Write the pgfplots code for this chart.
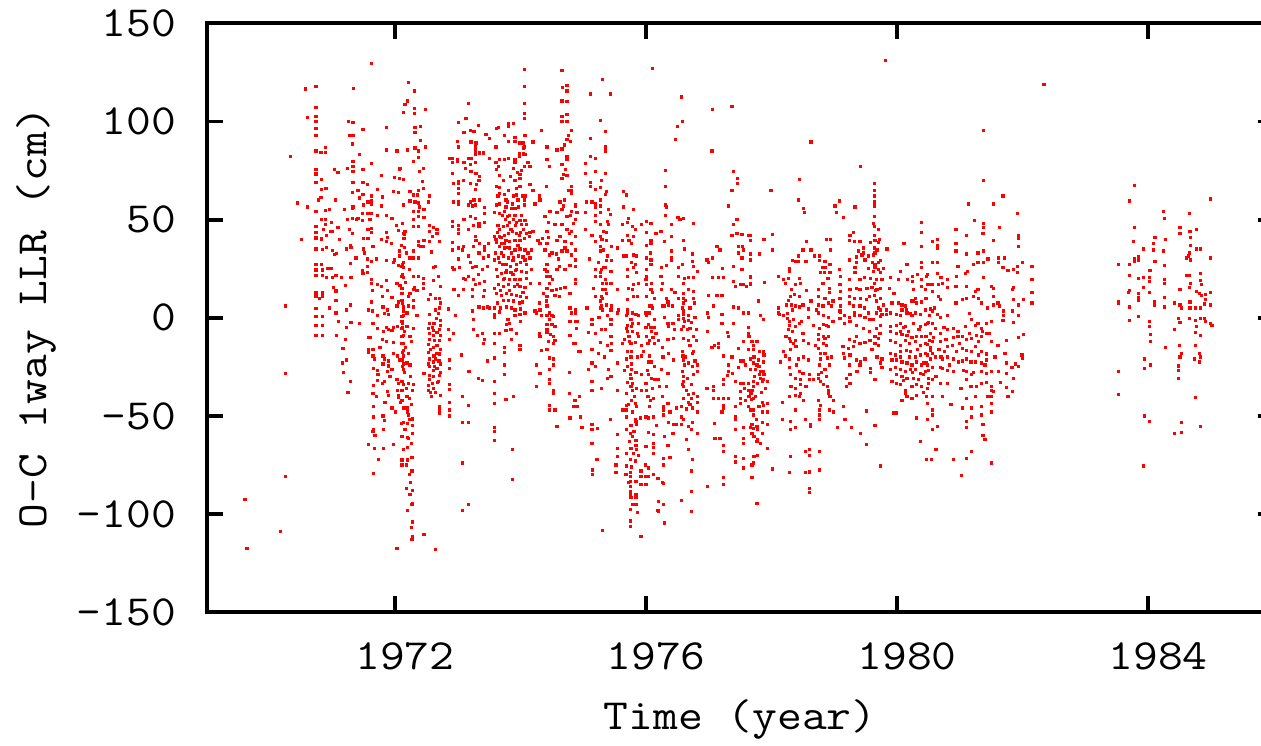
\documentclass[border=0pt]{standalone}
\usepackage{pgfplots}
\pgfplotsset{compat=1.18}
\newcommand\lt[1]{\scalebox{1.12}[1]{\fontsize{21.5}{26}\selectfont\ttfamily #1}}
\begin{document}
\begin{tikzpicture}
\begin{axis}[
 scale only axis, width=533.5pt, height=294.5pt,
 xmin=1969, xmax=1986, ymin=-150, ymax=150,
 xtick={1972,1976,1980,1984}, xticklabels={\lt{1972},\lt{1976},\lt{1980},\lt{1984}},
 ytick={-150,-100,-50,0,50,100,150}, yticklabels={\lt{-150},\lt{-100},\lt{-50},\lt{0},\lt{50},\lt{100},\lt{150}},
 tick align=inside, major tick length=8pt,
 tick style={line width=2pt, black},
 axis line style={line width=2pt},
 xticklabel style={inner sep=7.2pt, yshift=-8pt, xshift=5pt},
 yticklabel style={inner sep=7.2pt, xshift=-8pt},
 xlabel={\lt{Time (year)}}, ylabel={\lt{O-C 1way LLR (cm)}},
 every axis x label/.style={at={(axis description cs:0.5,-0.1817)}, anchor=center},
 every axis y label/.style={at={(axis description cs:-0.1593,0.5)}, anchor=center, rotate=90},
 mydots/.style={only marks, red, mark=square*, mark size=0.56pt, mark options={draw=red, fill=red, line width=0pt}},
]
\coordinate (bbA) at (axis cs:1965.705,-217.9);
\coordinate (bbB) at (axis cs:1985.80,161.9);
% region 1969-1972.15
\addplot[mydots] coordinates {
(1969.64,-117.6) (1969.61,-92.7) (1970.17,-108.8) (1970.25,-81) (1970.25,-28.5) (1970.25,6) (1970.33,82) (1970.45,58.5) (1970.51,39.7) (1970.60,56.5) (1970.60,102) (1970.57,116.6) (1971.34,117) (1971.63,129.7) (1972.03,-117.6)
(1970.74,118) (1970.74,107) (1970.74,102.5) (1970.74,100) (1970.74,96.6) (1970.74,92.7) (1970.74,85) (1970.74,75.7) (1970.74,73.3) (1970.74,69) (1970.74,54) (1970.74,46.5) (1970.74,43.4) (1970.74,40.6) (1970.74,35) (1970.74,27) (1970.74,24.4) (1970.74,21.5) (1970.74,12.6) (1970.74,10.8) (1970.74,4.9) (1970.74,0.7) (1970.74,-4) (1970.74,-9.2)
(1970.82,84.2) (1970.89,86.7) (1970.89,84.2) (1970.83,70.6) (1970.83,65.2) (1970.90,65.7) (1970.82,61.4) (1970.89,54.6) (1970.83,49.9) (1970.89,50.2) (1970.83,40.2) (1970.89,47.7) (1970.99,48.5) (1971.0,44) (1970.91,41.8) (1970.85,34.6) (1970.91,35.8) (1971.0,34.1) (1971.04,32.1) (1971.07,32.6) (1970.83,27) (1970.84,24.4) (1970.92,25.1) (1970.98,25) (1970.85,21.4) (1970.91,20.5) (1971.0,20.5) (1971.06,21.7) (1971.15,20.5) (1971.02,15.3) (1971.06,13.6) (1970.85,12.6) (1970.85,10.9) (1971.06,8.8) (1971.06,2.5) (1970.85,0.7) (1970.85,-3.9) (1970.85,-9.2) (1971.07,-9) (1970.75,4.9) (1971.04,75.7) (1971.09,74) (1970.98,44) (1971.09,45.9)
(1971.26,100) (1971.33,99.5) (1971.27,93) (1971.33,93) (1971.32,88.5) (1971.43,83) (1971.33,79.5) (1971.33,77) (1971.24,76) (1971.33,74.5) (1971.33,69) (1971.32,64) (1971.33,56.5) (1971.32,55.5) (1971.32,50.5) (1971.24,50) (1971.39,50) (1971.32,43) (1971.29,37) (1971.30,36) (1971.23,35) (1971.38,30.5) (1971.29,27.5) (1971.30,20.5) (1971.21,16.5) (1971.29,6.5) (1971.23,4) (1971.30,-2.5) (1971.23,-5) (1971.21,-11) (1971.17,-15.5) (1971.16,-23) (1971.23,-21.5) (1971.29,-32.5) (1971.43,-3)
(1971.49,96) (1971.49,75.5) (1971.49,69) (1971.41,65) (1971.49,63) (1971.56,68) (1971.43,61) (1971.63,78.5) (1971.50,57.5) (1971.48,53) (1971.41,50.5) (1971.48,49.5) (1971.57,53) (1971.63,62) (1971.63,59.5) (1971.63,58) (1971.57,59) (1971.72,65.5) (1971.79,72.5) (1971.86,97) (1971.86,85.5) (1972.03,85) (1972.07,75.5) (1971.99,71.5) (1972.07,71) (1971.98,64.5) (1972.06,64) (1971.80,61.5) (1971.79,57) (1971.72,52) (1971.63,53) (1971.87,52) (1971.95,50.5)
(1971.57,45) (1971.63,45.5) (1971.63,43.5) (1971.57,40.5) (1971.50,40.5) (1971.65,36.5) (1971.87,43.5) (1971.88,41) (1971.87,39) (1972.02,47) (1972.06,44.5) (1972.15,42.5) (1972.15,40.5) (1972.15,36) (1972.07,34) (1972.07,31.5) (1971.99,29.5) (1971.98,28) (1972.05,26.5) (1972.12,27) (1971.50,35) (1971.51,33) (1971.56,30) (1971.56,26) (1971.48,24) (1971.56,23) (1971.49,22.5) (1971.63,19.5) (1971.63,28.5) (1971.63,17.5) (1971.72,17) (1971.64,14) (1971.79,16) (1971.87,19) (1971.88,14) (1971.80,11) (1971.95,10.5) (1972.03,17.5) (1972.10,21) (1972.08,16.5)
(1972.03,6) (1972.05,8) (1972.12,7.5) (1972.13,3.5) (1972.13,1) (1972.12,-3) (1972.12,-5) (1972.13,-9) (1972.13,-13) (1972.12,-17.5) (1972.13,-23.5) (1972.12,-25) (1971.81,5.5) (1971.83,2) (1971.88,4) (1971.89,1.5) (1971.87,-5) (1971.89,-6) (1971.82,-7) (1971.72,1) (1971.64,3.5) (1971.58,4) (1971.65,-3) (1971.72,-5.5) (1971.58,-10) (1971.87,-12) (1971.80,-11) (1971.98,-12.5) (1971.97,-5) (1972.04,-4.5) (1971.95,-6.5)
(1971.65,-16) (1971.58,-16) (1971.58,-17.5) (1971.65,-19.5) (1971.67,-21) (1971.81,-19.5) (1971.83,-21) (1971.90,-22) (1971.90,-24.5) (1971.81,-23.5) (1971.88,-27.5) (1971.95,-26.5) (1972.04,-19.5) (1972.08,-21.5) (1971.72,-27) (1971.73,-29) (1971.80,-33.5) (1971.72,-32) (1971.83,-32.5) (1971.66,-34.5) (1971.65,-38.5) (1971.88,-37.5) (1971.89,-39.5) (1972.03,-31.5) (1972.05,-33.5) (1972.04,-37) (1972.05,-39.5) (1972.05,-40.5) (1972.10,-32.5) (1972.12,-37) (1972.09,-43) (1971.95,-46) (1972.01,-48) (1971.66,-45) (1971.66,-50.5) (1971.81,-50) (1971.83,-52.5) (1971.82,-57) (1971.66,-57) (1971.65,-58) (1971.58,-64.5) (1971.67,-66.5) (1971.82,-66.5) (1971.98,-64.5) (1972.10,-54) (1972.10,-60.5) (1972.12,-72.5) (1972.10,-75) (1971.66,-79.5)
};
% region 1972.08-1974.95
\addplot[mydots] coordinates {
(1972.22,120) (1972.16,108.5) (1972.20,110.5) (1972.14,104.5) (1972.31,115.5) (1972.31,106.5) (1972.31,104) (1972.32,97) (1972.32,94.5) (1972.40,97.5) (1972.20,85.5) (1972.32,86.5) (1972.37,85) (1972.48,106) (1972.48,87) (1972.37,81.5) (1972.30,79.5) (1972.40,90.5) (1972.39,74.5) (1972.45,76) (1972.08,76) (1972.14,70.5) (1972.44,69.5) (1972.45,66) (1972.37,65) (1972.36,62.5) (1972.29,62.5) (1972.24,64.5) (1972.24,59.5) (1972.14,57.5) (1972.32,59) (1972.37,58.5) (1972.39,56.5) (1972.46,55) (1972.29,54) (1972.37,54) (1972.29,50) (1972.37,51.5) (1972.46,51) (1972.55,62) (1972.53,59) (1972.37,46.5) (1972.29,46.5) (1972.14,43) (1972.14,40.5) (1972.37,39) (1972.37,37) (1972.46,39.5) (1972.45,36.5) (1972.41,36.5) (1972.29,34) (1972.30,30.5) (1972.24,30.5) (1972.37,30.5) (1972.14,28) (1972.14,25.5) (1972.11,26) (1972.14,20.5) (1972.23,24.5) (1972.29,21) (1972.37,21) (1972.45,20) (1972.45,17.5) (1972.45,15) (1972.31,15.5) (1972.35,14) (1972.29,14.5) (1972.24,12.5) (1972.21,11) (1972.11,15) (1972.11,12.5) (1972.11,9) (1972.14,5.5) (1972.29,9) (1972.29,5.5) (1972.35,1) (1972.13,4) (1972.11,0.5) (1972.11,-2) (1972.11,-5.5) (1972.11,-9.5) (1972.19,2.5) (1972.14,1) (1972.29,-5.5) (1972.24,-9.5) (1972.19,-4.5) (1972.11,-13) (1972.14,-16.5) (1972.13,-19.5) (1972.11,-21.5) (1972.19,-23) (1972.24,-24) (1972.13,-26.5) (1972.11,-32.5) (1972.21,-33.5) (1972.13,-34) (1972.29,-34) (1972.28,-37) (1972.11,-37) (1972.19,-40) (1972.23,-41) (1972.11,-42) (1972.19,-46) (1972.20,-48) (1972.21,-49.5) (1972.28,-51.5) (1972.13,-53.5) (1972.20,-54) (1972.28,-55) (1972.28,-59) (1972.11,-60.5) (1972.20,-61) (1972.21,-61.5) (1972.20,-66) (1972.27,-71) (1972.20,-72.5) (1972.11,-72.5) (1972.11,-75) (1972.18,-75) (1972.27,-78) (1972.18,-87) (1972.24,-90) (1972.28,-88) (1972.28,-94.5) (1972.27,-95) (1972.28,-104) (1972.28,-111.5) (1972.27,-113) (1972.46,-110.5) (1972.64,-118)
(1972.55,47) (1972.61,46) (1972.67,45) (1972.67,43) (1972.55,44) (1972.60,41.5) (1972.55,39) (1972.71,39) (1972.58,33.5) (1972.61,25.5) (1972.65,26) (1972.69,21) (1972.72,16) (1972.61,19) (1972.53,9.5) (1972.64,10) (1972.71,10) (1972.72,7.5) (1972.71,5) (1972.64,4) (1972.55,1.5) (1972.66,-0.5) (1972.72,-1.5) (1972.62,-3) (1972.55,-3) (1972.72,-4) (1972.53,-5.5) (1972.61,-6.5) (1972.71,-6) (1972.55,-8) (1972.61,-9) (1972.67,-7.5) (1972.72,-9) (1972.55,-11) (1972.63,-11.5) (1972.71,-11.5) (1972.53,-13.5) (1972.61,-15) (1972.67,-14) (1972.72,-16) (1972.53,-17.5) (1972.62,-19.5) (1972.71,-18.5) (1972.55,-21) (1972.64,-21) (1972.70,-22) (1972.53,-23.5) (1972.61,-22.5) (1972.72,-23.5) (1972.55,-25) (1972.61,-27) (1972.67,-26) (1972.72,-28) (1972.46,-28.5) (1972.55,-29.5) (1972.61,-30) (1972.71,-29.5) (1972.53,-34.5) (1972.60,-33.5) (1972.69,-32.5) (1972.53,-37) (1972.61,-36) (1972.56,-38) (1972.64,-38) (1972.72,-39.5) (1972.71,-45) (1972.71,-47) (1972.71,-48.5) (1972.55,-31.5)
(1972.92,81) (1972.87,81) (1972.92,79) (1972.92,73.5) (1972.93,68.5) (1972.93,59) (1972.92,49) (1972.92,46.5) (1972.92,38.5) (1972.92,34.5) (1972.92,25.5) (1972.93,14.5) (1972.85,4.5) (1972.96,1) (1972.93,-8) (1972.85,-6) (1972.87,-11) (1972.87,-21.5) (1972.87,-26) (1972.87,-34) (1972.87,-36.5) (1972.87,-43) (1972.87,-47) (1972.87,-50)
(1973.01,99.5) (1972.99,90) (1973.01,87) (1973.0,80.5) (1972.99,79.5) (1973.01,69.5) (1973.01,68.5) (1973.01,66) (1973.01,63.5) (1973.01,59) (1973.01,58) (1973.01,47) (1973.01,45) (1973.01,43) (1973.01,35.5) (1973.01,30) (1973.03,25.5) (1972.94,24.5) (1973.01,11.5) (1973.08,34.5) (1973.09,36.5) (1973.06,-19) (1973.08,-40) (1973.08,-53.5) (1973.08,-74) (1973.08,-98) (1973.17,-95) (1973.17,-53.5) (1973.17,-44.5) (1973.17,-27.5)
(1973.17,109) (1973.13,101.5) (1973.10,94.5) (1973.20,95.5) (1973.33,98) (1973.26,95) (1973.21,89.5) (1973.29,89) (1973.28,87) (1973.28,85) (1973.28,83) (1973.35,84) (1973.41,84) (1973.45,93.5) (1973.17,81) (1973.22,81) (1973.10,79) (1973.12,76) (1973.20,78) (1973.28,79) (1973.21,74.5) (1973.29,73.5) (1973.35,72) (1973.09,70) (1973.20,68.5) (1973.30,68) (1973.28,65.5) (1973.34,70) (1973.20,59) (1973.26,60) (1973.28,57.5) (1973.24,57) (1973.17,57.5) (1973.35,60) (1973.43,56) (1973.43,53) (1973.20,51.5) (1973.28,50.5) (1973.34,48) (1973.42,48.5) (1973.34,46.5) (1973.25,47) (1973.17,45) (1973.10,50) (1973.28,41.5) (1973.29,39.5) (1973.25,36.5) (1973.35,38) (1973.43,36.5) (1973.49,38) (1973.43,34.5) (1973.17,31.5) (1973.20,28) (1973.34,33) (1973.41,30.5) (1973.49,31.5) (1973.47,26) (1973.29,26) (1973.24,25.5) (1973.40,24.5) (1973.33,22) (1973.17,21) (1973.09,20) (1973.12,19.5) (1973.25,19.5) (1973.28,17) (1973.24,14.5) (1973.35,17.5) (1973.42,18.5) (1973.43,14) (1973.41,11) (1973.34,5.5) (1973.41,5) (1973.47,5.5) (1973.50,5) (1973.24,11) (1973.24,3.5) (1973.09,14.5) (1972.94,14.5) (1973.25,-1) (1973.25,-6) (1973.31,-9) (1973.40,-8) (1973.42,-11) (1973.41,-13) (1973.40,-32) (1973.33,-31) (1973.47,-22) (1973.18,-27.5)
(1973.51,81) (1973.62,96.5) (1973.65,97) (1973.61,87) (1973.51,91.5) (1973.74,93) (1973.81,90) (1973.81,99) (1973.81,97.5) (1973.89,99) (1973.91,92) (1973.91,90) (1973.99,89) (1974.05,89) (1974.05,86.5) (1974.05,83.5) (1973.98,83.5) (1973.91,80.5) (1973.91,79) (1973.89,76) (1973.95,74) (1973.99,73) (1973.99,71) (1973.91,70) (1973.74,80.5) (1973.81,81) (1973.67,80.5) (1973.61,79) (1973.65,77) (1973.62,75.5) (1973.67,72.5) (1973.62,67) (1973.66,66.5) (1973.67,63.5) (1973.74,63) (1973.81,65) (1973.89,62) (1973.94,62.5) (1973.99,67) (1974.03,62) (1974.07,62) (1974.06,60) (1974.06,57.5) (1973.97,56.5) (1973.91,55.5) (1973.86,55.5) (1973.77,56.5) (1973.77,60) (1973.67,58) (1973.62,57.5) (1973.59,53.5) (1973.67,53) (1973.74,54) (1973.79,51.5) (1973.91,52) (1973.99,49.5) (1974.07,49.5) (1974.10,47.5) (1974.02,47.5) (1973.94,48.5) (1973.89,50) (1973.83,48.5) (1973.79,47) (1973.73,46.5) (1973.67,45) (1973.63,43.5) (1973.59,41.5) (1973.66,41.5) (1973.74,42) (1973.81,43) (1973.87,44) (1973.94,43) (1974.0,43.5) (1974.09,43) (1974.15,43.5) (1974.20,44) (1974.14,41.5) (1974.06,40.5) (1973.99,39.5) (1973.91,39.5) (1973.83,39) (1973.77,39.5) (1973.70,38) (1973.62,38.5) (1973.67,36.5) (1973.75,35.5) (1973.83,35.5) (1973.91,34.5) (1973.99,35) (1974.07,34.5) (1974.12,33) (1974.15,30.5) (1974.07,29.5) (1973.97,31.5) (1973.89,30.5) (1973.81,30.5) (1973.73,31.5) (1973.65,30.5) (1973.59,29.5) (1973.67,28) (1973.77,27) (1973.84,26) (1973.93,27) (1974.0,28) (1974.09,27) (1974.18,24.5) (1974.10,23) (1974.02,23.5) (1973.94,24.5) (1973.85,23) (1973.77,23) (1973.70,22.5) (1973.62,24.5) (1973.63,21) (1973.73,19.5) (1973.82,19.5) (1973.91,19.5) (1973.99,19.5) (1974.10,20) (1974.16,17.5) (1974.07,15.5) (1973.99,16) (1973.90,16) (1973.81,17) (1973.73,16) (1973.65,17) (1973.58,15) (1973.62,12.5) (1973.70,11.5) (1973.78,12.5) (1973.86,12) (1973.93,11.5) (1974.0,11) (1974.09,10.5) (1973.98,7.5) (1973.89,8.5) (1973.81,9) (1973.73,9) (1973.63,7.5) (1973.59,5) (1973.68,5) (1973.78,5.5) (1973.86,5) (1973.91,4) (1974.0,4.5) (1974.07,2.5) (1973.99,1.5) (1973.91,1) (1973.83,-3) (1973.78,-3.5) (1973.77,-6.5) (1973.85,-6) (1973.75,-15) (1973.75,-17.5) (1973.59,1.5) (1973.59,0) (1973.59,-8) (1973.59,-13) (1973.66,-8) (1973.58,-20.5) (1973.58,-32.5) (1973.58,-38.5) (1973.58,-43.5) (1973.58,-56) (1973.58,-58) (1973.59,-62.5) (1973.75,-24) (1973.75,-29) (1973.77,-41.5) (1973.89,-40) (1973.87,-67) (1973.87,-82.5) (1973.99,-14) (1973.99,-16) (1974.0,-2) (1973.86,-11)
(1974.06,126.5) (1974.06,118) (1974.06,109) (1974.06,104) (1974.06,101.5) (1974.07,93) (1974.06,87) (1973.98,82) (1974.07,83) (1974.12,79) (1974.06,77) (1974.15,77) (1974.20,89.5) (1974.15,68) (1974.20,65) (1974.23,58) (1974.30,62) (1974.31,60) (1974.18,34.5) (1974.28,39.5) (1974.31,38) (1974.35,40.5) (1974.23,3.5) (1974.26,2.5) (1974.30,7.5) (1974.31,4) (1974.34,1) (1974.30,-8) (1974.31,-9.5) (1974.25,-24) (1974.25,-35) (1974.31,-28.5) (1974.34,-16.5) (1974.30,17.5)
(1974.34,95.5) (1974.42,87) (1974.42,80.5) (1974.46,77) (1974.41,67) (1974.47,54) (1974.39,51.5) (1974.44,48.5) (1974.42,44) (1974.44,41) (1974.42,38) (1974.39,34.5) (1974.46,32) (1974.50,33) (1974.57,32.5) (1974.42,27) (1974.39,24.5) (1974.42,23.5) (1974.42,21) (1974.48,21) (1974.51,19.5) (1974.46,17.5) (1974.42,15) (1974.37,12.5) (1974.42,11) (1974.41,8.5) (1974.42,6) (1974.50,14) (1974.57,14.5) (1974.55,11.5) (1974.42,1) (1974.46,2.5) (1974.50,1) (1974.53,0.5) (1974.46,-1) (1974.50,-3.5) (1974.42,-3.5) (1974.55,-4.5) (1974.42,-6) (1974.42,-7.5) (1974.48,-8.5) (1974.52,-9.5) (1974.55,-11.5) (1974.53,-13) (1974.42,-16) (1974.46,-20.5) (1974.53,-21) (1974.46,-26.5) (1974.46,-31.5) (1974.46,-33.5) (1974.53,-37) (1974.53,-38.5) (1974.46,-44.5) (1974.46,-47) (1974.55,-47) (1974.58,-55.5)
(1974.66,126) (1974.74,118.5) (1974.67,117.5) (1974.74,115.5) (1974.66,110.5) (1974.74,110) (1974.74,103.5) (1974.66,102.5) (1974.66,100) (1974.74,100) (1974.81,95.5) (1974.76,93) (1974.74,91) (1974.80,90) (1974.66,86) (1974.58,85.5) (1974.74,82) (1974.66,78) (1974.74,80.5) (1974.72,75.5) (1974.68,73) (1974.74,72.5) (1974.66,71) (1974.81,67) (1974.81,65) (1974.81,63.5) (1974.63,59) (1974.68,57) (1974.66,55) (1974.58,53.5) (1974.81,54) (1974.87,57.5) (1974.80,52) (1974.74,51.5) (1974.84,48) (1974.66,47.5) (1974.55,47.5) (1974.74,45) (1974.81,44) (1974.87,41.5) (1974.63,41.5) (1974.58,39.5) (1974.71,39) (1974.81,38) (1974.71,35.5) (1974.66,34) (1974.74,34) (1974.81,32) (1974.87,29.5) (1974.79,26.5) (1974.71,24.5) (1974.62,26) (1974.58,24.5) (1974.64,15) (1974.71,15.5) (1974.79,12.5) (1974.88,17.5) (1974.87,4) (1974.88,2.5) (1974.79,5) (1974.81,2.5) (1974.79,-2) (1974.88,-2) (1974.89,-5.5) (1974.79,-9) (1974.85,-13) (1974.95,-17) (1974.78,-28) (1974.78,-38.5) (1974.86,-42) (1974.85,-45) (1974.79,-51)
};
% region 1974.87-1977.74
\addplot[mydots] coordinates {
(1976.10,127) (1975.31,121.5) (1975.12,114) (1975.43,114) (1976.57,112.5) (1977.06,106) (1977.37,107.5) (1975.27,100.5) (1976.58,100) (1976.50,97.5) (1975.36,95) (1976.47,91) (1975.12,91.5) (1975.35,87) (1975.35,85) (1977.05,85) (1975.12,82) (1975.19,81) (1975.03,78.5) (1975.04,73.5) (1975.20,74.5) (1975.35,73.5) (1975.29,70) (1975.12,69) (1975.12,67) (1975.20,65.5) (1975.27,66.5) (1975.37,64.5) (1975.35,63) (1975.27,60) (1975.14,59) (1975.05,59) (1975.20,58) (1975.20,56) (1975.27,57) (1975.03,53.5) (1975.20,52) (1975.27,53.5) (1975.43,52.5) (1975.19,49) (1975.28,47.5) (1975.39,49) (1975.40,47.5) (1975.03,45) (1975.14,42) (1975.19,39) (1975.27,41.5) (1975.32,44) (1975.37,43.5) (1975.37,39.5) (1975.28,36.5) (1975.32,34.5) (1975.45,36.5) (1975.28,34) (1975.39,31.5) (1975.37,29) (1975.32,25.5) (1975.36,25.5) (1975.29,24.5) (1975.45,29) (1975.44,23.5) (1975.20,24.5) (1975.27,23) (1975.28,21) (1975.20,21) (1975.35,19.5) (1975.31,17.5) (1975.37,17.5) (1975.44,17.5) (1975.31,14.5) (1975.35,14.5) (1975.37,12.5) (1975.29,11) (1975.31,10) (1975.28,8.5) (1975.37,6.5) (1975.29,6) (1975.45,6) (1975.20,11) (1975.27,5) (1975.31,4) (1975.44,4) (1975.39,1) (1975.44,-1) (1975.25,0) (1975.14,-1) (1975.14,-3.5) (1975.44,-3.5) (1975.29,-6) (1975.36,-6) (1975.20,-8) (1975.08,-7.5) (1975.27,-12.5) (1975.44,-9.5) (1975.45,-13) (1975.39,-14) (1975.44,-16.5) (1974.93,-17) (1975.14,-16) (1975.08,-26.5) (1975.14,-23) (1975.20,-25) (1975.14,-32.5) (1975.14,-37) (1975.29,-36) (1975.40,-26.5) (1975.44,-30) (1975.39,-31) (1975.55,-37) (1974.94,-40) (1974.95,-50.5) (1974.98,-56) (1975.14,-54.5) (1975.14,-57) (1975.23,-56.5) (1975.14,-64) (1975.43,-52) (1975.22,-72) (1975.15,-77.5) (1975.15,-80) (1975.31,-108.5)
(1974.87,57) (1974.90,53.5) (1974.87,50) (1974.87,34.5) (1974.87,26) (1974.87,19.5) (1974.90,-2) (1974.87,-13) (1974.87,-42) (1974.90,-45)
(1975.64,64.5) (1975.69,62.5) (1975.64,56.5) (1975.80,55) (1975.63,47.5) (1975.71,48.5) (1975.78,46.5) (1975.72,50.5) (1975.83,45) (1975.71,42) (1975.80,41.5) (1975.55,35.5) (1975.63,39.5) (1975.73,39.5) (1975.77,38) (1975.64,31.5) (1975.69,31.5) (1975.80,32) (1975.85,31.5) (1975.77,28) (1975.83,27) (1975.80,25.5) (1975.71,24.5) (1975.71,21) (1975.85,23) (1975.55,14.5) (1975.72,15) (1975.80,17) (1975.78,14.5) (1975.88,17.5) (1975.80,11) (1975.87,11) (1975.71,9.5) (1975.56,4) (1975.55,2.5) (1975.71,4) (1975.71,2.5) (1975.69,1) (1975.78,2.5) (1975.84,1.5) (1975.76,-1) (1975.78,-3) (1975.88,-3) (1975.88,1) (1975.71,-4) (1975.69,-5.5) (1975.77,-4.5) (1975.71,-7) (1975.78,-7) (1975.86,-8) (1975.88,-9.5) (1975.73,-9.5) (1975.66,-11) (1975.62,-13) (1975.76,-13) (1975.83,-12.5) (1975.93,-14) (1975.71,-17) (1975.77,-17) (1975.87,-20) (1975.76,-20) (1975.69,-21) (1975.77,-23.5) (1975.71,-25) (1975.54,-23) (1975.77,-26.5) (1975.75,-29) (1975.84,-28) (1975.93,-29) (1975.76,-31) (1975.78,-33.5) (1975.76,-35) (1975.78,-37) (1975.85,-36) (1975.93,-37) (1975.69,-38.5) (1975.77,-42) (1975.83,-43.5) (1975.85,-45) (1975.69,-44.5) (1975.68,-47) (1975.62,-47) (1975.69,-50.5) (1975.83,-52) (1975.84,-53) (1975.85,-54.5) (1975.91,-51) (1975.76,-55) (1975.69,-57) (1975.75,-59) (1975.78,-60.5) (1975.84,-62.5) (1975.84,-65) (1975.85,-67) (1975.76,-66.5) (1975.69,-69) (1975.75,-72) (1975.83,-73) (1975.69,-75.5) (1975.75,-79) (1975.68,-80) (1975.75,-81) (1975.84,-83.5) (1975.75,-83.5) (1975.75,-86) (1975.75,-88.5) (1975.75,-90) (1975.84,-90) (1975.84,-91.5) (1975.76,-91.5) (1975.84,-95) (1975.75,-97.5) (1975.75,-103.5) (1975.75,-106.5) (1975.92,-111.5) (1975.55,-59.5) (1975.55,-66.5) (1975.55,-70.5) (1975.52,-75) (1975.52,-79) (1975.92,-78) (1975.92,-81) (1975.92,-85) (1976.0,-85) (1975.99,-81)
(1975.93,47.5) (1976.01,49) (1976.08,48) (1976.01,43.5) (1976.16,43) (1976.01,37) (1976.08,39.5) (1976.08,38) (1976.07,33) (1976.01,30.5) (1976.08,29.5) (1976.08,27) (1976.01,24.5) (1976.01,21) (1976.0,19.5) (1976.01,17) (1976.09,17.5) (1976.08,14.5) (1976.10,13) (1976.01,11) (1976.14,10) (1976.09,6) (1976.10,5) (1976.0,2.5) (1976.01,1) (1976.06,2.5) (1976.14,-1) (1976.04,-3.5) (1976.0,-5) (1976.08,-5) (1976.14,-5) (1976.09,-7) (1976.01,-9.5) (1976.06,-11.5) (1976.11,-10) (1976.03,-13) (1976.14,-13) (1976.20,-11.5) (1975.96,-17) (1976.06,-19.5) (1975.93,-19.5) (1976.04,-22.5) (1976.09,-22.5) (1976.14,-31.5) (1976.19,-31.5) (1976.04,-29) (1976.09,-31) (1976.0,-33.5) (1976.10,-36) (1976.01,-37) (1976.03,-40) (1976.12,-41) (1976.05,-45) (1976.0,-50.5) (1976.04,-51) (1976.12,-50.5) (1976.04,-58.5) (1976.12,-59.5) (1976.12,-64) (1976.0,-65.5) (1976.12,-66) (1976.12,-69) (1976.04,-76.5) (1976.04,-81) (1976.12,-80) (1975.99,-75) (1976.19,-82) (1976.19,-98)
(1976.31,75) (1976.31,67) (1976.31,57.5) (1976.33,56.5) (1976.31,52) (1976.41,47.5) (1976.24,44) (1976.30,39) (1976.41,41.5) (1976.40,34) (1976.41,30.5) (1976.41,29) (1976.25,25.5) (1976.33,26.5) (1976.24,21) (1976.26,17.5) (1976.25,14.5) (1976.41,14.5) (1976.46,13) (1976.33,10) (1976.35,8) (1976.26,6) (1976.29,6) (1976.36,6.5) (1976.42,6) (1976.35,-3) (1976.36,-4.5) (1976.43,-3) (1976.45,-6) (1976.35,-11) (1976.44,-10.5) (1976.26,-15) (1976.36,-18) (1976.44,-21.5) (1976.25,-26.5) (1976.35,-28.5) (1976.26,-40) (1976.28,-45.5) (1976.28,-47) (1976.28,-49.5) (1976.35,-43.5) (1976.36,-53.5) (1976.44,-54.5) (1976.43,-59) (1976.29,-60.5) (1976.35,-65) (1976.28,-71.5) (1976.38,-71) (1976.28,-75) (1976.26,-84) (1976.28,-84.5) (1976.28,-95) (1976.29,-104.5) (1976.20,-98.5) (1976.20,-93.5)
(1976.51,51) (1976.54,50) (1976.60,50.5) (1976.76,48) (1976.60,39.5) (1976.61,35) (1976.74,32.5) (1976.74,28.5) (1976.76,26) (1976.82,23.5) (1976.52,25.5) (1976.58,27) (1976.52,21) (1976.61,20) (1976.60,17.5) (1976.68,20.5) (1976.76,20.5) (1976.68,14.5) (1976.60,12.5) (1976.76,13.5) (1976.52,10) (1976.60,10) (1976.76,10) (1976.77,7.5) (1976.60,7.5) (1976.58,5) (1976.60,3.5) (1976.60,1.5) (1976.52,1) (1976.60,-0.5) (1976.68,-1.5) (1976.52,-1) (1976.68,1) (1976.73,-2.5) (1976.61,-2) (1976.60,-4.5) (1976.57,-6) (1976.81,-6) (1976.70,-5.5) (1976.76,-9.5) (1976.60,-10.5) (1976.68,-11.5) (1976.70,-14) (1976.76,-17) (1976.74,-18) (1976.81,-11.5) (1976.58,-17) (1976.59,-19.5) (1976.60,-21.5) (1976.68,-23) (1976.74,-25) (1976.82,-24) (1976.82,-27.5) (1976.76,-29) (1976.61,-24) (1976.58,-27.5) (1976.60,-30) (1976.60,-32.5) (1976.58,-34) (1976.60,-35) (1976.65,-37) (1976.68,-39) (1976.76,-38.5) (1976.82,-40) (1976.73,-41) (1976.60,-41) (1976.68,-43) (1976.82,-43) (1976.82,-48) (1976.74,-46) (1976.65,-46.5) (1976.57,-45) (1976.57,-50.5) (1976.60,-52) (1976.57,-54.5) (1976.74,-53.5) (1976.68,-55.5) (1976.73,-57) (1976.82,-59) (1976.68,-67) (1976.74,-72) (1976.73,-78) (1976.73,-88.5) (1976.73,-98.5) (1976.57,-93) (1976.49,-54.5) (1976.49,-46)
(1976.97,29.5) (1977.06,30.5) (1976.99,28) (1977.13,36.5) (1977.18,34.5) (1977.06,20.5) (1977.15,20.5) (1977.22,25) (1977.23,20.5) (1976.99,11.5) (1977.13,11.5) (1977.21,11.5) (1977.07,6) (1977.21,1.5) (1976.98,2.5) (1976.99,0) (1977.21,-3) (1976.98,-7) (1977.09,-14) (1977.16,-13) (1977.05,-15) (1977.15,-15) (1977.30,-7.5) (1977.31,-9.5) (1977.39,-3) (1977.39,5.5) (1977.23,-19.5) (1977.37,-20) (1977.31,-24) (1977.32,-27.5) (1977.38,-28.5) (1977.30,-29.5) (1977.23,-31.5) (1977.23,-34) (1977.07,-35) (1976.97,-36) (1977.07,-37) (1977.07,-41) (1977.16,-41) (1977.23,-41) (1977.32,-41) (1977.23,-44.5) (1977.23,-46) (1977.21,-48) (1977.09,-54) (1977.10,-61.5) (1977.18,-61.5) (1977.23,-65) (1977.23,-68) (1977.23,-81.5) (1977.23,-85) (1976.98,-86)
(1977.37,65) (1977.46,71) (1977.46,68.5) (1977.39,74.5) (1977.32,57) (1977.39,47.5) (1977.37,42) (1977.45,50) (1977.45,43) (1977.47,36.5) (1977.47,33) (1977.53,42.5) (1977.54,36.5) (1977.55,34.5) (1977.53,30.5) (1977.53,24.5) (1977.39,26) (1977.39,18.5) (1977.42,16) (1977.50,17) (1977.55,17) (1977.60,16) (1977.66,17) (1977.66,20.5) (1977.64,42) (1977.66,39.5) (1977.67,29.5) (1977.63,2.5) (1977.47,5) (1977.55,2.5) (1977.63,-5) (1977.63,-8) (1977.64,-9.5) (1977.71,-14) (1977.63,-16) (1977.55,-12) (1977.47,-15.5) (1977.55,-22) (1977.50,-22) (1977.58,-24) (1977.66,-21) (1977.71,-23) (1977.66,-26.5) (1977.47,-25.5) (1977.42,-32.5) (1977.50,-33.5) (1977.55,-33.5) (1977.63,-33.5) (1977.71,-32.5) (1977.57,-36) (1977.63,-37) (1977.68,-38.5) (1977.50,-37.5) (1977.50,-41) (1977.58,-42) (1977.64,-40) (1977.68,-41.5) (1977.42,-45) (1977.50,-43.5) (1977.63,-45) (1977.71,-49.5) (1977.42,-50.5) (1977.42,-52) (1977.42,-57) (1977.55,-56) (1977.66,-56) (1977.71,-60.5) (1977.55,-61.5) (1977.55,-64) (1977.42,-70.5) (1977.42,-73.5) (1977.55,-71.5) (1977.55,-76.5) (1977.71,-74) (1977.68,-81.5)
};
% region 1977.66-1980.53
\addplot[mydots] coordinates {
(1979.82,131) (1978.63,89.5) (1979.42,77) (1978.45,70.5) (1977.99,65) (1978.43,60) (1978.51,55.5) (1978.52,53.5) (1979.08,59.5) (1979.01,57) (1979.15,51) (1979.33,56.5) (1979.64,68.5) (1979.64,65) (1979.64,62) (1979.64,59) (1979.64,57) (1979.64,51.5) (1979.64,46.5) (1979.64,42) (1979.65,39.5) (1979.64,35.5) (1979.68,34.5) (1979.65,33) (1979.58,38.5) (1979.70,38.5) (1979.84,35) (1979.61,28) (1979.65,27) (1979.70,28) (1979.74,29) (1979.65,25.5) (1979.70,24.5) (1979.62,23.5) (1979.74,23) (1979.67,19.5) (1979.76,19.5) (1979.64,17.5) (1979.60,15.5) (1979.68,14.5) (1979.74,15) (1979.64,11.5) (1979.56,11) (1979.67,8.5) (1979.74,10) (1979.78,6.5) (1979.74,4) (1979.67,2.5) (1979.76,1.5) (1979.83,4) (1979.83,1.5) (1979.62,-1) (1979.67,-5.5) (1979.65,-9.5) (1979.70,-10.5) (1979.65,-13) (1979.70,-14) (1979.74,-4) (1979.74,0.5) (1979.76,-21) (1979.74,-23) (1979.76,-25.5) (1979.65,-31.5) (1979.65,-55) (1979.74,-75.5) (1979.51,-47.5) (1979.51,-64.5)
(1979.47,35.5) (1979.47,33) (1979.49,29.5) (1979.44,32) (1979.55,31.5) (1979.35,31) (1979.35,28) (1979.33,25.5) (1979.24,29.5) (1979.32,25.5) (1979.33,23) (1979.24,19.5) (1979.39,34) (1979.41,39) (1979.32,39) (1979.25,42) (1979.31,43.5) (1979.24,39.5) (1979.48,20.5) (1979.41,19.5) (1979.35,15) (1979.41,14.5) (1979.52,15) (1979.25,14.5) (1979.24,11) (1979.32,10) (1979.42,10) (1979.51,9.5) (1979.24,7.5) (1979.31,6) (1979.41,6) (1979.48,5) (1979.55,2.5) (1979.32,2.5) (1979.24,0) (1979.32,1) (1979.41,1) (1979.49,0) (1979.57,-1) (1979.10,3) (1979.16,1) (1979.09,-0.5) (1979.16,-3) (1979.25,-2) (1979.35,-4) (1979.47,-5.5) (1979.56,-7) (1979.35,-9.5) (1979.24,-11) (1979.32,-12) (1979.41,-13) (1979.49,-12.5) (1979.57,-11.5) (1979.14,-14.5) (1979.23,-15.5) (1979.31,-14.5) (1979.15,-18) (1979.25,-19) (1979.16,-20.5) (1979.35,-21.5) (1979.42,-22.5) (1979.49,-21) (1979.24,-24) (1979.41,-24) (1979.36,-27.5) (1979.58,-26) (1979.58,-28) (1979.25,-29) (1979.20,-31) (1979.25,-33.5) (1979.20,-35) (1979.15,-45) (1979.17,-52) (1979.27,-56) (1979.42,-59) (1979.08,24.5) (1979.10,21) (1979.09,17) (1979.10,13.5) (1979.09,10) (1979.10,6) (1979.09,3.5) (1979.0,57) (1979.03,53.5)
(1977.66,42) (1977.66,39.5) (1977.66,32.5) (1977.66,29) (1977.66,21) (1977.66,17.5) (1977.81,32.5) (1977.88,40) (1978.02,42.5) (1978.01,34.5) (1977.89,18) (1977.79,8.5) (1977.82,1) (1977.87,-1) (1977.69,-12) (1977.77,-12) (1977.71,-16) (1977.81,-17) (1977.87,-17) (1977.88,-19) (1977.72,-20) (1977.79,-21.5) (1977.87,-22.5) (1977.77,-24) (1977.74,-26.5) (1977.82,-27.5) (1977.87,-27.5) (1977.81,-29) (1977.88,-29) (1977.82,-31) (1977.87,-31.5) (1977.86,-32.5) (1977.94,-32.5) (1977.78,-33.5) (1977.71,-35) (1977.69,-37) (1977.67,-38.5) (1977.71,-41) (1977.86,-43) (1977.94,-43.5) (1977.87,-44.5) (1977.71,-47) (1977.67,-47) (1977.86,-48) (1977.94,-48) (1977.69,-54.5) (1977.77,-55.5) (1977.71,-56.5) (1977.93,-54.5) (1977.86,-53.5) (1977.78,-57) (1977.86,-59) (1977.69,-59) (1977.72,-60.5) (1977.78,-62) (1977.77,-63) (1977.72,-70.5) (1977.94,-66.5) (1977.78,-70) (1977.69,-75) (1977.69,-81.5) (1977.77,-94.5) (1978.02,-77)
(1978.11,21) (1978.19,19.5) (1978.22,17.5) (1978.29,23.5) (1978.27,20) (1978.34,29) (1978.29,25) (1978.38,28.5) (1978.43,31.5) (1978.43,28.5) (1978.55,28.5) (1978.56,39) (1978.50,34.5) (1978.63,34.5) (1978.68,31.5) (1978.45,20) (1978.46,17.5) (1978.38,17) (1978.32,14.5) (1978.30,11) (1978.27,9) (1978.32,6.5) (1978.34,4) (1978.24,6.5) (1978.45,11) (1978.38,6) (1978.45,5.5) (1978.50,6.5) (1978.11,5) (1978.11,2.5) (1978.13,1.5) (1978.19,1) (1978.25,2) (1978.25,-0.5) (1978.29,-2) (1978.35,-1) (1978.29,-4) (1978.27,-6) (1978.34,-7) (1978.38,-4.5) (1978.45,-3) (1978.50,-8) (1978.59,0) (1978.59,4.5) (1978.63,8.5) (1978.67,-4) (1978.23,-9.5) (1978.29,-10.5) (1978.38,-11.5) (1978.30,-12) (1978.35,-13) (1978.39,-14.5) (1978.51,-11.5) (1978.59,-13) (1978.19,-17) (1978.22,-19.5) (1978.14,-22.5) (1978.29,-21) (1978.43,-21) (1978.51,-20) (1978.59,-21.5) (1978.29,-25.5) (1978.45,-27.5) (1978.50,-28.5) (1978.30,-29) (1978.38,-31) (1978.46,-31.5) (1978.61,-29) (1978.61,-31.5) (1978.67,-31.5) (1978.46,-34) (1978.31,-35) (1978.38,-36) (1978.46,-38.5) (1978.29,-40) (1978.38,-39.5) (1978.45,-40) (1978.51,-42) (1978.17,-43) (1978.38,-47) (1978.18,-52) (1978.30,-53) (1978.38,-56) (1978.54,-52) (1978.62,-54.5) (1978.62,-55.5) (1978.30,-57) (1978.30,-70.5) (1978.29,-79) (1978.54,-68) (1978.61,-67) (1978.61,-70) (1978.54,-79) (1978.61,-78.5) (1978.61,-87) (1978.61,-89)
(1978.76,31.5) (1978.76,29) (1978.85,28.5) (1978.82,25.5) (1978.85,25.5) (1978.94,34.5) (1978.94,40) (1978.87,40) (1978.78,23) (1978.84,23) (1978.93,27) (1978.93,23) (1978.75,14.5) (1978.75,11) (1978.82,17.5) (1978.92,15) (1978.92,13) (1978.85,10) (1978.75,6.5) (1978.82,6) (1978.91,7.5) (1978.98,8.5) (1978.96,6) (1978.75,2.5) (1978.83,1) (1978.91,0) (1978.98,-2) (1978.83,-3.5) (1978.76,-5.5) (1978.91,-4.5) (1978.75,-8.5) (1978.83,-9.5) (1978.85,-10.5) (1978.75,-11) (1978.91,-9.5) (1978.83,-13) (1978.87,-14) (1978.75,-15.5) (1978.78,-18) (1978.85,-18) (1978.78,-21) (1978.89,-20.5) (1978.76,-24) (1978.92,-24) (1978.85,-26.5) (1978.75,-29) (1978.87,-30) (1978.75,-31) (1978.78,-32.5) (1978.83,-34) (1978.89,-35) (1978.91,-37) (1978.91,-38.5) (1978.93,-40) (1978.75,-42) (1978.78,-44.5) (1978.76,-47) (1978.76,-49.5) (1978.76,-52) (1978.99,-42) (1978.99,-48) (1978.92,-47) (1979.05,-56) (1978.76,-77.5) (1978.76,-68)
(1979.89,20.5) (1979.88,15) (1979.95,12.5) (1980.02,19.5) (1979.92,7.5) (1980.02,7.5) (1980.08,6.5) (1980.13,6) (1980.15,4) (1980.26,8.5) (1980.31,7.5) (1980.39,8) (1980.46,10) (1980.24,8.5) (1980.17,19.5) (1980.05,23.5) (1980.16,27) (1980.11,38) (1980.25,18.5) (1980.25,21) (1980.33,22) (1980.39,16) (1980.45,14.5) (1980.26,14.5) (1980.30,10) (1980.39,36.5) (1980.39,28) (1980.39,25.5) (1980.39,48.5) (1980.39,43.5) (1980.47,21) (1980.52,17) (1980.39,19.5) (1979.90,2.5) (1979.99,1.5) (1980.08,4) (1980.06,1) (1980.16,2.5) (1980.24,1) (1980.29,2.5) (1980.37,1.5) (1980.45,4) (1980.52,1)
(1979.89,-4.5) (1979.99,-4) (1980.05,-3) (1980.13,-4.5) (1980.06,-7) (1980.18,-7) (1980.26,-3) (1980.37,-4.5) (1980.45,-3.5) (1980.50,-2.5) (1979.89,-7) (1979.99,-8) (1980.08,-8.5) (1980.16,-9) (1980.24,-10) (1980.31,-9.5) (1980.39,-9.5) (1980.46,-9.5) (1979.89,-11.5) (1979.97,-12.5) (1980.05,-14) (1980.13,-11.5) (1980.20,-13) (1980.29,-12) (1980.37,-14) (1980.45,-13) (1980.52,-11.5) (1979.89,-18) (1979.97,-19) (1980.06,-17) (1980.15,-16.5) (1980.22,-17) (1980.29,-20) (1980.37,-19) (1980.45,-18) (1980.53,-16.5) (1979.92,-21.5) (1979.99,-21.5) (1980.08,-22.5) (1980.16,-23) (1980.24,-24) (1980.31,-22.5) (1980.39,-24) (1980.47,-23) (1979.89,-26.5) (1979.97,-25.5) (1980.05,-26.5) (1980.13,-27.5) (1980.21,-26.5) (1980.29,-26.5) (1980.37,-28.5) (1980.45,-27.5) (1979.99,-29) (1980.08,-30) (1980.16,-31) (1980.26,-31) (1980.34,-31.5) (1980.42,-29) (1979.92,-32.5) (1979.99,-33.5) (1980.06,-34) (1980.13,-37) (1980.24,-35) (1980.31,-34) (1980.39,-35) (1980.50,-33.5) (1980.13,-38.5) (1980.16,-40) (1980.08,-42) (1980.24,-41) (1980.31,-39.5) (1980.42,-38) (1980.47,-40) (1979.94,-48.5) (1979.99,-48.5) (1980.31,-51) (1980.37,-63) (1980.47,-72)
};
% region 1980.45-1982.4
\addplot[mydots] coordinates {
(1982.34,119) (1981.38,95.5) (1981.38,70) (1981.69,62) (1981.14,58) (1981.54,58) (1981.92,53) (1981.24,49.5) (1981.38,48) (1981.38,46) (1981.37,43) (1981.63,46) (1980.94,45) (1981.11,42) (1981.54,39.5) (1981.93,42) (1981.93,40.5) (1981.93,36.5) (1980.56,39) (1980.65,40) (1980.65,37) (1980.65,35.5) (1980.94,38) (1980.94,34) (1981.11,32.5) (1981.29,33) (1981.38,34) (1981.45,30) (1981.62,30.5) (1981.71,30.5) (1981.62,28) (1981.22,27) (1981.29,28) (1981.38,28) (1980.56,28) (1980.65,28) (1980.97,26) (1981.69,25.5) (1981.77,24) (1981.86,24.5) (1981.92,26) (1982.0,28) (1982.15,26) (1982.15,19.5) (1981.92,23) (1980.48,22) (1980.64,22.5) (1980.70,20.5) (1980.80,19.5) (1980.95,21) (1981.09,22.5) (1981.12,23.5) (1981.38,20.5) (1980.56,17) (1980.66,17) (1980.80,15.5) (1980.94,16) (1981.11,16) (1981.29,14.5) (1981.51,16) (1981.54,15) (1981.86,15.5) (1981.84,14.5) (1982.15,13) (1980.48,17) (1980.57,13.5) (1980.66,11) (1980.69,9.5) (1980.73,17.5)
(1980.53,4.5) (1980.57,3.5) (1980.65,1.5) (1980.69,0) (1980.80,1) (1980.94,7.5) (1981.04,9.5) (1981.11,10) (1981.25,13.5) (1981.22,11) (1981.35,7.5) (1981.54,11) (1981.61,7.5) (1981.63,6) (1981.54,6.5) (1981.70,3.5) (1981.70,1) (1981.69,-1.5) (1981.86,9.5) (1981.84,3.5) (1981.86,-2.5) (1981.94,6.5) (1982.02,9.5) (1982.15,7.5) (1981.94,1) (1982.01,-8.5)
(1980.48,-3) (1980.57,-3) (1980.61,-5.5) (1980.53,-8) (1980.69,-8) (1980.80,-6) (1980.90,-5.5) (1980.97,-7) (1981.04,-9.5) (1981.09,-4.5) (1981.19,-1) (1981.25,-4) (1981.29,-3) (1981.35,-5.5) (1981.43,-3) (1981.51,-2) (1981.43,-8) (1981.36,-7) (1981.34,-9.5) (1981.27,-9) (1981.19,-10.5) (1981.11,-11) (1980.97,-9.5) (1980.90,-10) (1980.78,-11) (1980.69,-12) (1980.57,-12) (1980.48,-13.5) (1980.53,-15) (1980.57,-18) (1980.67,-16) (1980.76,-17) (1980.80,-14.5) (1980.95,-17) (1981.04,-15.5) (1981.11,-16.5) (1981.19,-17) (1981.25,-14.5) (1981.30,-19) (1981.35,-17) (1981.42,-18.5) (1981.50,-12) (1981.61,-14) (1981.75,-11.5) (1981.94,-10)
(1980.48,-19) (1980.53,-21) (1980.61,-20) (1980.72,-21) (1980.80,-20) (1980.90,-21) (1980.98,-22.5) (1981.04,-22) (1981.11,-21) (1981.18,-22.5) (1981.25,-22.5) (1981.34,-23) (1981.43,-21.5) (1981.75,-23) (1981.83,-25.5) (1981.89,-23.5) (1981.99,-19) (1982.0,-20.5) (1980.48,-24) (1980.56,-25.5) (1980.69,-25.5) (1980.73,-26) (1980.80,-27) (1980.90,-27.5) (1981.11,-27.5) (1981.19,-29) (1981.34,-27.5) (1981.43,-28.5) (1981.51,-27.5) (1981.62,-27.5) (1981.75,-28.5) (1981.86,-31) (1981.93,-25) (1980.50,-31) (1980.56,-31.5) (1980.69,-33.5) (1980.80,-33.5) (1981.11,-31.5) (1981.18,-35) (1981.27,-35) (1981.35,-33.5) (1981.42,-33) (1981.51,-35) (1981.50,-37) (1981.54,-37.5) (1981.75,-35.5) (1981.84,-37.5) (1981.77,-40)
(1980.48,-36) (1980.56,-40) (1980.48,-43.5) (1980.56,-47) (1980.56,-49.5) (1980.48,-52) (1980.64,-55.5) (1980.56,-57) (1981.11,-41) (1981.04,-46) (1981.19,-46) (1981.19,-50.5) (1981.35,-45) (1981.35,-49.5) (1981.37,-54.5) (1981.37,-60) (1981.11,-53) (1981.11,-56) (1981.50,-40) (1981.50,-43.5) (1981.50,-48) (1980.62,-67) (1980.55,-72) (1980.90,-72) (1981.11,-71.5) (1981.19,-68) (1981.50,-74) (1981.03,-80.5)
};
% region 1983.5-1985
\addplot[mydots] coordinates {
(1983.78,67.5) (1983.71,59.5) (1984.99,60.5) (1984.25,54) (1984.66,53) (1984.26,50.5) (1983.78,46) (1984.51,46) (1984.51,43) (1984.67,44) (1984.77,45) (1984.68,41) (1983.77,39) (1984.11,41) (1984.09,38) (1984.28,40) (1984.68,37) (1983.93,35) (1984.09,34.5) (1984.25,34) (1984.77,35) (1984.84,35) (1984.66,33) (1984.65,31.5) (1984.61,30.5) (1984.68,29.5) (1984.99,30.5) (1983.78,30) (1983.85,31) (1983.78,28.5) (1983.85,29.5) (1984.11,28.5) (1983.53,27) (1983.71,27) (1984.26,26.5) (1984.03,24) (1983.71,21.5) (1983.93,20.5) (1984.02,20.5) (1983.85,20) (1984.02,18.5) (1984.26,19.5) (1984.26,17.5) (1983.93,15.5) (1984.61,21.5) (1984.66,21.5) (1984.83,22.5) (1984.83,19) (1984.85,17) (1984.68,17.5) (1984.66,15.5) (1983.71,14) (1983.69,13) (1983.85,12.5) (1983.85,10.5) (1983.85,9) (1984.02,13) (1983.53,8) (1983.53,7.5) (1984.10,8) (1984.10,6.5) (1984.26,10.5) (1984.26,5.5) (1984.51,14.5) (1984.51,6.5) (1984.53,5) (1984.42,7.5) (1984.77,13.5) (1984.82,12.5) (1984.85,11.5) (1984.91,12) (1984.91,9.5) (1984.90,7) (1984.67,8) (1984.67,5) (1984.75,5) (1984.84,5) (1985.0,13) (1985.0,6.5)
(1983.70,5.5) (1983.70,-1.5) (1983.85,0.5) (1984.02,-2) (1984.02,-4.5) (1984.04,-8.5) (1984.04,-12) (1984.42,-6) (1984.49,-0.5) (1984.51,-2.5) (1984.66,-0.5) (1984.75,-1.5) (1984.77,-4.5) (1984.75,-7.5) (1984.83,-0.5) (1984.90,-0.5) (1984.91,-2) (1985.0,-3) (1985.02,-4) (1984.83,-9) (1984.28,-15) (1984.50,-14) (1984.53,-18) (1984.51,-20) (1984.75,-14) (1984.82,-18) (1984.83,-20) (1984.82,-22.5) (1984.74,-21) (1983.94,-21) (1983.94,-26) (1984.04,-24) (1984.49,-24.5) (1984.49,-27) (1984.49,-31) (1983.53,-27.5) (1983.53,-39) (1984.75,-40.5) (1983.94,-50) (1984.02,-53) (1984.53,-53.5) (1984.42,-59) (1984.53,-58.5) (1984.83,-55.5) (1983.93,-75.5)
};
% further points in the densest streaks
\addplot[mydots] coordinates {
(1972.12,48) (1972.16,44) (1972.10,37) (1972.18,33) (1972.12,22) (1972.17,18) (1972.22,6) (1972.15,-7) (1972.26,-12) (1972.17,-15) (1972.22,-18) (1972.15,-28) (1972.25,-30) (1972.18,-36) (1972.26,-44) (1972.14,-46) (1972.23,-52) (1972.16,-57) (1972.26,-64) (1972.14,-67) (1972.23,-80) (1972.25,-84) (1972.20,-98) (1972.26,-107)
(1973.60,33) (1973.64,47) (1973.69,41) (1973.72,27) (1973.76,50) (1973.80,36) (1973.85,45) (1973.88,29) (1973.92,47) (1973.96,37) (1974.01,52) (1974.04,31) (1973.68,14) (1973.75,20) (1973.83,14) (1973.88,22) (1973.95,17) (1974.03,8) (1973.71,52) (1973.79,59) (1973.87,58) (1973.96,60) (1973.64,62) (1973.73,70) (1973.84,72) (1973.93,66) (1974.02,75) (1973.66,3) (1973.80,-1) (1973.94,-8) (1974.04,13) (1973.61,40) (1973.70,33) (1973.78,24) (1973.86,33) (1973.92,24) (1973.98,42) (1974.05,45) (1973.74,38) (1973.82,52)
(1975.72,-44) (1975.78,-48) (1975.74,-63) (1975.80,-69) (1975.72,-84) (1975.79,-95) (1975.86,-99) (1975.70,-33) (1975.82,-40) (1975.74,-12) (1975.66,-27) (1975.81,-58) (1975.77,-76) (1975.88,-70)
(1976.62,-20) (1976.66,-31) (1976.70,-44) (1976.64,-62) (1976.72,-34) (1976.78,-22) (1976.63,9) (1976.70,5) (1976.66,-6) (1976.78,0)
(1977.75,-40) (1977.80,-45) (1977.84,-38) (1977.76,-52) (1977.83,-64) (1977.90,-36) (1977.73,-30) (1977.80,-25)
(1979.58,20) (1979.62,32) (1979.66,14) (1979.70,5) (1979.73,-8) (1979.60,-16) (1979.68,-20) (1979.72,40) (1979.62,48) (1979.70,45) (1979.55,25) (1979.78,25)
(1980.05,-20) (1980.10,-32) (1980.20,-20) (1980.25,-28) (1980.33,-16) (1980.42,-23) (1980.50,-27) (1980.58,-10) (1980.62,-30) (1980.70,-20) (1980.75,-5) (1980.84,-24) (1980.88,-14) (1981.00,-13) (1981.06,-27) (1981.15,-8) (1981.22,-28) (1981.30,-12) (1981.40,-24) (1981.47,-8) (1981.56,-20) (1981.65,-33) (1981.72,-18) (1980.10,-5) (1980.22,2) (1980.35,-6) (1980.60,5) (1980.72,-40) (1980.86,-44) (1981.02,-36) (1981.25,-40) (1981.40,-62) (1981.45,-40) (1981.15,2) (1981.30,10) (1981.44,5)
(1978.30,-16) (1978.40,-24) (1978.48,-2) (1978.55,-35) (1978.70,-14) (1978.80,-28) (1978.88,-4) (1978.95,-20) (1978.36,12) (1978.56,14) (1978.72,4) (1978.90,20)
(1971.60,-10) (1971.66,-26) (1971.70,-40) (1971.76,-15) (1971.84,-43) (1971.92,-30) (1971.97,-18) (1971.62,8) (1971.70,30) (1971.78,40) (1971.86,29) (1971.94,38) (1971.68,-60) (1971.74,-72) (1971.60,50)
(1972.57,-16) (1972.63,-25) (1972.68,-33) (1972.58,-40) (1972.66,-18) (1972.60,-5) (1972.69,2) (1972.57,12)
(1974.45,-12) (1974.52,-24) (1974.60,30) (1974.70,60) (1974.76,65) (1974.70,88) (1974.78,43) (1974.62,11)
(1975.10,30) (1975.16,15) (1975.24,28) (1975.30,40) (1975.40,55) (1975.34,-20) (1975.24,-18) (1975.06,5)
(1976.02,-27) (1976.07,-42) (1976.13,-25) (1976.17,-55) (1976.22,-35) (1976.27,-20) (1976.33,-35) (1976.38,-48) (1976.05,6) (1976.16,-8) (1976.30,0)
(1970.78,60) (1970.86,45) (1970.95,55) (1971.05,60) (1971.12,40) (1971.20,55) (1971.28,45) (1970.80,10) (1970.95,5) (1971.10,-2) (1971.25,-38) (1971.18,-28)
};
\end{axis}
\pgfresetboundingbox
\path[use as bounding box] (bbA) rectangle (bbB);
\end{tikzpicture}
\end{document}
